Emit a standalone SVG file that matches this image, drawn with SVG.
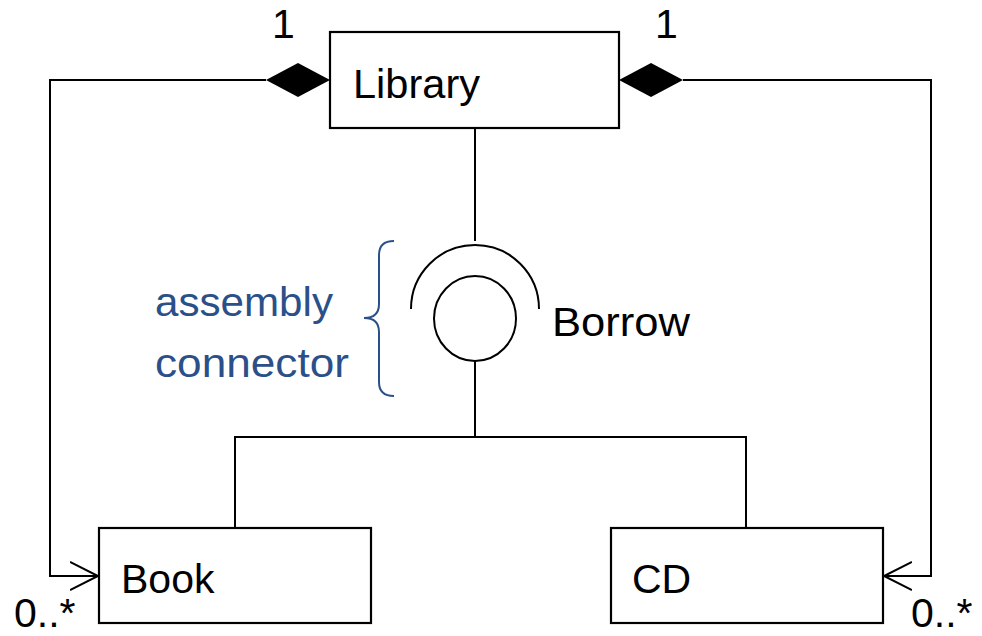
<svg xmlns="http://www.w3.org/2000/svg" width="982" height="636" viewBox="0 0 982 636">
<style>
.box{fill:#fff;stroke:#000;stroke-width:2.2}
.ln{fill:none;stroke:#000;stroke-width:2}
.t{font-family:"Liberation Sans",Arial,sans-serif;font-size:41px;fill:#000}
.b{font-family:"Liberation Sans",Arial,sans-serif;font-size:41px;fill:#2B5089}
</style>
<defs>
<marker id="open" markerUnits="userSpaceOnUse" markerWidth="32" markerHeight="32" refX="28" refY="15" orient="auto">
<path d="M0,1 L28,15 L0,29" fill="none" stroke="#000" stroke-width="2"/>
</marker>
</defs>
<rect width="982" height="636" fill="#fff"/>
<g id="connectors">
<path class="ln" d="M266,80 H50 V576 H98" marker-end="url(#open)"/>
<path class="ln" d="M683,80 H931 V576 H884" marker-end="url(#open)"/>
<polygon points="330,80 298,63 266,80 298,97" fill="#000"/>
<polygon points="619,80 651,63 683,80 651,97" fill="#000"/>
<line class="ln" x1="475" y1="128" x2="475" y2="241"/>
<line class="ln" x1="475" y1="361" x2="475" y2="437"/>
<path class="ln" d="M235,528 V437 H746 V528"/>
</g>
<g id="borrow">
<path class="ln" d="M411,309 A64,64 0 1 1 539,309"/>
<ellipse class="ln" cx="475" cy="318.5" rx="41" ry="42.5"/>
<text class="t" x="552" y="336" textLength="138" lengthAdjust="spacingAndGlyphs">Borrow</text>
</g>
<g id="note">
<path d="M394,241 Q379,241 379,255 V304 Q379,318 364,318 Q379,318 379,332 V382 Q379,396 394,396" fill="none" stroke="#2B5089" stroke-width="2"/>
<text class="b" x="155" y="316" textLength="178" lengthAdjust="spacingAndGlyphs">assembly</text>
<text class="b" x="155" y="377" textLength="194" lengthAdjust="spacingAndGlyphs">connector</text>
</g>
<g id="library">
<rect class="box" x="330" y="32" width="289" height="96"/>
<text class="t" x="353" y="98" textLength="127" lengthAdjust="spacingAndGlyphs">Library</text>
</g>
<g id="book">
<rect class="box" x="99" y="528" width="272" height="95"/>
<text class="t" x="121" y="593">Book</text>
</g>
<g id="cd">
<rect class="box" x="611" y="528" width="272" height="95"/>
<text class="t" x="632" y="593">CD</text>
</g>
<g id="labels">
<text class="t" x="272" y="38">1</text>
<text class="t" x="655" y="38">1</text>
<text class="t" x="14" y="627">0..*</text>
<text class="t" x="911" y="627">0..*</text>
</g>
</svg>
